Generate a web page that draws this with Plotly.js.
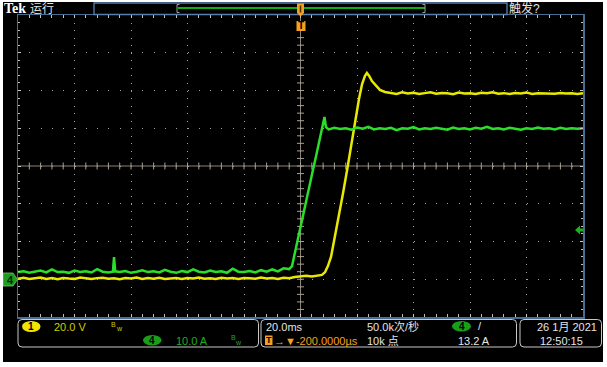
<!DOCTYPE html>
<html><head><meta charset="utf-8">
<script src="https://cdn.plot.ly/plotly-3.0.1.min.js"></script>
<style>
html,body{margin:0;padding:0;background:#fff;width:607px;height:367px;overflow:hidden}
#plot{position:absolute;left:3px;top:2px;width:600px;height:360px}
</style>
</head><body><div id="plot"></div>
<script>
// ---------- data (time in ms, ch1 in V, ch4 in A) ----------
const ch1Time = [-100,-98,-96,-94,-92,-90,-88,-86,-84,-82,-80,-78,-76,-74,-72,-70,-68,-66,-64,-62,
  -60,-58,-56,-54,-52,-50,-48,-46,-44,-42,-40,-38,-36,-34,-32,-30,-28,-26,-24,-22,
  -20,-18,-16,-14,-12,-10,-8,-6,-4,-2,0,2,4,6,
  7.6,8.7,9.7,10.8,12.2,13.6,15.0,16.5,17.9,19.3,20.7,21.8,22.8,23.5,24.3,25.3,26.7,28.1,29.9,
  32,34,36,38,40,42,44,46,48,50,52,54,56,58,60,62,64,66,68,70,72,74,76,78,80,82,84,86,88,90,92,94,96,98,100];
const ch1Volt = [0.3,0.8,0.1,0.5,0.9,0.2,0.6,0.0,0.7,0.4,
  0.2,0.9,0.5,0.1,0.6,0.8,0.3,0.5,0.0,0.7,
  0.4,0.9,0.2,0.6,0.3,0.8,0.1,0.5,0.7,0.2,
  0.6,0.4,0.9,0.3,0.5,0.1,0.8,0.4,0.6,0.2,
  0.7,0.5,0.3,0.9,0.4,0.6,0.2,0.8,0.5,1.2,
  1.6,1.9,1.5,2.0,
  2.3,3.8,7.0,11.8,22.4,34.0,45.2,57.9,70.6,83.3,95.5,103.4,107.7,109.3,107.7,105.0,102.4,100.3,99.2,
  98.7,98.2,99.0,98.4,98.8,98.1,98.6,99.1,98.3,98.7,
  98.5,98.0,98.9,98.4,98.6,98.2,98.8,98.5,99.0,98.3,
  98.6,98.1,98.7,98.4,98.9,98.2,98.6,98.5,98.8,98.3,
  98.7,98.4,98.6,98.2,98.5];

const ch4Time = [-100,-98,-96,-94,-92,-90,-88,-86,-84,-82,-80,-78,-76,-74,-72,-70,-68,-66.4,-66,-65.6,-64,-62,
  -60,-58,-56,-54,-52,-50,-48,-46,-44,-42,-40,-38,-36,-34,-32,-30,-28,-26,-24,-22,
  -20,-18,-16,-14,-12,-10,-8,-6,-4,
  -3.0,-1.6,-0.2,1.2,2.7,4.1,5.5,6.9,8.0,8.5,9.0,
  10,12,14,16,18,20,22,24,26,28,30,32,34,36,38,40,42,44,46,48,50,52,54,56,58,
  60,62,64,66,68,70,72,74,76,78,80,82,84,86,88,90,92,94,96,98,100];
const ch4Amp = [1.9,2.1,1.7,2.0,2.3,1.8,2.6,1.9,2.0,1.7,
  2.3,1.9,2.1,1.8,2.7,2.0,1.8,2.0,5.9,2.1,1.9,2.2,
  1.7,2.0,2.4,1.9,2.1,1.8,2.5,2.0,1.7,2.2,
  1.9,2.6,2.0,1.8,2.3,1.9,2.1,1.7,2.8,2.0,
  1.9,2.2,1.8,2.4,2.0,2.6,2.1,2.9,2.7,
  3.5,8.5,13.3,18.3,23.1,27.9,32.6,37.7,41.4,43.0,40.3,
  39.7,40.1,39.8,40.0,39.6,40.2,39.9,40.4,39.7,40.0,
  39.8,40.1,39.5,40.0,39.9,40.3,39.7,40.0,39.8,40.1,
  39.9,39.6,40.2,39.8,40.0,39.7,40.1,39.9,40.4,39.8,
  40.0,39.7,40.1,39.9,39.6,40.0,39.8,40.2,39.9,40.0,
  39.7,40.1,39.8,40.0,39.9,40.0];

// screen settings
const timeRange = [-100, 100];   // 20 ms/div, 10 div
const divRange = [-4, 4];        // 8 vertical divisions
const ch1Range = [-20, 140];     // 20 V/div, ground at -3 div
const ch4Range = [-10, 70];      // 10 A/div, ground at -3 div

// ---------- helpers: page pixel -> paper ----------
const PX0 = 18, PW = 565, PY1 = 317, PH = 302;
const X = px => (px - PX0) / PW;
const Y = py => (PY1 - py) / PH;
function rr(x0, y0, x1, y1, r) {
  const p = (a, b) => X(a) + ',' + Y(b);
  return 'M' + p(x0 + r, y0) + ' L' + p(x1 - r, y0) + ' Q' + p(x1, y0) + ' ' + p(x1, y0 + r) +
    ' L' + p(x1, y1 - r) + ' Q' + p(x1, y1) + ' ' + p(x1 - r, y1) +
    ' L' + p(x0 + r, y1) + ' Q' + p(x0, y1) + ' ' + p(x0, y1 - r) +
    ' L' + p(x0, y0 + r) + ' Q' + p(x0, y0) + ' ' + p(x0 + r, y0) + ' Z';
}
function poly(pts) {
  return 'M' + pts.map(q => X(q[0]) + ',' + Y(q[1])).join(' L') + ' Z';
}

const YEL = '#e8e800', GRN = '#2ade2a', ORG = '#f5a01e';
const FONT = 'Liberation Sans, Noto Sans CJK SC, sans-serif';

// centre-line graticule ticks (every 1/5 division)
const hTickX = [], hTickY = [], vTickX = [], vTickY = [];
for (let t = timeRange[0] + 4; t < timeRange[1]; t += 4) { hTickX.push(t); hTickY.push(0); }
for (let d = divRange[0] + 0.2; d < divRange[1] - 0.01; d += 0.2) { vTickX.push(0); vTickY.push(d); }

const data = [
  {type:'scatter', mode:'markers', x:hTickX, y:hTickY, xaxis:'x', yaxis:'y',
   marker:{symbol:'line-ns', size:5, line:{color:'#a89f90', width:1}}, hoverinfo:'skip'},
  {type:'scatter', mode:'markers', x:vTickX, y:vTickY, xaxis:'x', yaxis:'y',
   marker:{symbol:'line-ew', size:5, line:{color:'#a89f90', width:1}}, hoverinfo:'skip'},
  {type:'scatter', mode:'lines', x:ch1Time, y:ch1Volt, xaxis:'x', yaxis:'y2',
   line:{color:YEL, width:2.5}, hoverinfo:'skip'},
  {type:'scatter', mode:'lines', x:ch4Time, y:ch4Amp, xaxis:'x', yaxis:'y3',
   line:{color:GRN, width:2.5}, hoverinfo:'skip'}
];

const shapes = [
  // centre cross-hair
  {type:'line', xref:'x', yref:'paper', x0:0, x1:0, y0:0, y1:1, layer:'below',
   line:{color:'#8c8476', width:1}},
  {type:'line', xref:'paper', yref:'y', x0:0, x1:1, y0:0, y1:0, layer:'below',
   line:{color:'#8c8476', width:1}},
  // record view box
  {type:'rect', xref:'paper', yref:'paper', x0:X(94), x1:X(507), y0:Y(14.5), y1:Y(3),
   line:{color:'#5a7fae', width:1.3}, fillcolor:'#000'},
  {type:'line', xref:'paper', yref:'paper', x0:X(178), x1:X(425), y0:Y(8), y1:Y(8),
   line:{color:'#10b010', width:2}},
  {type:'path', xref:'paper', yref:'paper', path:'M'+X(179.5)+','+Y(4.5)+' L'+X(177)+','+Y(4.5)+' L'+X(177)+','+Y(12.5)+' L'+X(179.5)+','+Y(12.5),
   line:{color:'#a0a0a0', width:1}},
  {type:'path', xref:'paper', yref:'paper', path:'M'+X(422.5)+','+Y(4.5)+' L'+X(425)+','+Y(4.5)+' L'+X(425)+','+Y(12.5)+' L'+X(422.5)+','+Y(12.5),
   line:{color:'#a0a0a0', width:1}},
  // trigger position markers
  {type:'path', xref:'paper', yref:'paper', path:poly([[297,3.5],[304,3.5],[304,13],[300.5,16.5],[297,13]]),
   fillcolor:ORG, line:{width:0}},
  {type:'line', xref:'paper', yref:'paper', x0:X(300.5), x1:X(300.5), y0:Y(5.5), y1:Y(12.5),
   line:{color:'#4a2a00', width:1.5}},
  {type:'rect', xref:'paper', yref:'paper', x0:X(296.5), x1:X(305.5), y0:Y(31), y1:Y(21),
   fillcolor:ORG, line:{width:0}},
  // ch4 ground marker
  {type:'path', xref:'paper', yref:'paper', path:poly([[3,273],[13,273],[17.5,279.5],[13,286],[3,286]]),
   fillcolor:'#1e9e1e', line:{color:'#6cc86c', width:0.8}},
  // trigger level arrow (right)
  {type:'path', xref:'paper', yref:'paper', path:poly([[575,230],[580,225.5],[580,228.5],[583,228.5],[583,231.5],[580,231.5],[580,234.5]]),
   fillcolor:'#1eb01e', line:{width:0}},
  // bottom readout boxes
  {type:'path', xref:'paper', yref:'paper', path:rr(18,319.5,258.5,347,4), line:{color:'#c8c8c8', width:1}},
  {type:'path', xref:'paper', yref:'paper', path:rr(261,319.5,516.5,347,4), line:{color:'#c8c8c8', width:1}},
  {type:'path', xref:'paper', yref:'paper', path:rr(520,319.5,601.5,347,4), line:{color:'#c8c8c8', width:1}},
  // channel badges
  {type:'circle', xref:'paper', yref:'paper', x0:X(22), x1:X(40.5), y0:Y(332), y1:Y(321),
   fillcolor:'#f2e400', line:{width:0}},
  {type:'circle', xref:'paper', yref:'paper', x0:X(143), x1:X(161.5), y0:Y(345.5), y1:Y(335),
   fillcolor:'#1a9e1a', line:{width:0}},
  {type:'circle', xref:'paper', yref:'paper', x0:X(452), x1:X(471), y0:Y(331.5), y1:Y(321),
   fillcolor:'#1a9e1a', line:{width:0}},
  {type:'rect', xref:'paper', yref:'paper', x0:X(265), x1:X(272.5), y0:Y(345), y1:Y(335.5),
   fillcolor:ORG, line:{width:0}}
];

const ann = (px, py, text, color, size, extra) => Object.assign({
  xref:'paper', yref:'paper', x:X(px), y:Y(py), xanchor:'left', yanchor:'middle',
  text:text, showarrow:false, borderpad:0,
  font:{family:FONT, size:size, color:color}}, extra || {});
const WHT = '#e4e4e4';
const annotations = [
  ann(3, 9, '<b>Tek</b>', '#ffffff', 14, {font:{family:'Liberation Serif, serif', size:14, color:'#fff'}}),
  ann(29, 9, '运行', WHT, 12),
  ann(508, 9, '触发?', WHT, 12),
  ann(301, 26, '<b>T</b>', '#000', 10, {xanchor:'center'}),
  ann(10, 279.5, '<b>4</b>', '#082008', 11, {xanchor:'center'}),
  ann(31.3, 326.5, '<b>1</b>', '#000', 10, {xanchor:'center'}),
  ann(53, 326.5, '20.0 V', '#cccc00', 11),
  ann(110, 324, 'B', '#cccc00', 7),
  ann(114.5, 328.5, 'w', '#cccc00', 7),
  ann(152.3, 340.3, '<b>4</b>', '#000', 10, {xanchor:'center'}),
  ann(175, 341, '10.0 A', '#22aa22', 11),
  ann(230, 337.5, 'B', '#22aa22', 7),
  ann(234.5, 342, 'w', '#22aa22', 7),
  ann(265, 326.5, '20.0ms', WHT, 11),
  ann(366, 326.5, '50.0k次/秒', WHT, 11),
  ann(268.8, 340.3, '<b>T</b>', '#000', 9, {xanchor:'center'}),
  ann(273, 341, '→▼-200.0000µs', ORG, 11),
  ann(366, 341, '10k 点', WHT, 11),
  ann(461.5, 326.3, '<b>4</b>', '#000', 10, {xanchor:'center'}),
  ann(477, 326, '/', WHT, 11),
  ann(457, 341, '13.2 A', WHT, 11),
  ann(536, 326.5, '26 1月 2021', WHT, 11),
  ann(539, 341, '12:50:15', WHT, 11)
];

const layout = {
  width:600, height:360, margin:{l:15, r:20, t:13, b:45, pad:0},
  paper_bgcolor:'#000', plot_bgcolor:'#000', showlegend:false, hovermode:false,
  xaxis:{range:timeRange, dtick:20, tick0:0, showgrid:true, gridcolor:'#a0a0a0',
    griddash:'1px,6.55px', gridwidth:1, showline:true, linecolor:'#4a6d92', linewidth:1.5,
    mirror:'allticks', ticks:'inside', ticklen:3, tickcolor:'#c8c8c8', tickwidth:1,
    minor:{dtick:4, ticks:'inside', ticklen:2, tickcolor:'#c0c0c0', showgrid:false},
    showticklabels:false, zeroline:false, fixedrange:true},
  yaxis:{range:divRange, dtick:1, tick0:0, showgrid:true, gridcolor:'#a0a0a0',
    griddash:'1px,10.3px', gridwidth:1, showline:true, linecolor:'#4a6d92', linewidth:1.5,
    mirror:'allticks', ticks:'inside', ticklen:3, tickcolor:'#c8c8c8', tickwidth:1,
    minor:{dtick:0.2, ticks:'inside', ticklen:2, tickcolor:'#c0c0c0', showgrid:false},
    showticklabels:false, zeroline:false, fixedrange:true},
  yaxis2:{overlaying:'y', range:ch1Range, visible:false, fixedrange:true},
  yaxis3:{overlaying:'y', range:ch4Range, visible:false, fixedrange:true},
  shapes:shapes, annotations:annotations
};

Plotly.newPlot('plot', data, layout, {staticPlot:true, displayModeBar:false});
</script></body></html>
